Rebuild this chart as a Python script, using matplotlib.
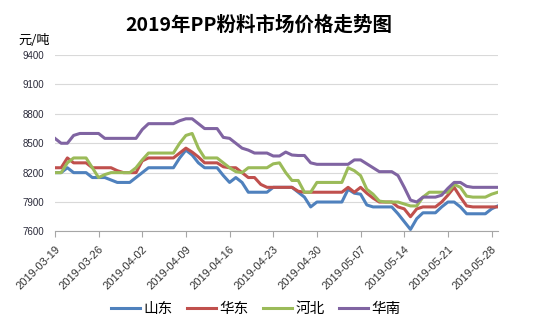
import matplotlib
matplotlib.use("Agg")
import matplotlib.pyplot as plt
import pandas as pd

plt.rcParams['font.family'] = ['Noto Sans CJK SC', 'DejaVu Sans']

# daily prices 2019-03-19 .. 2019-05-29 (yuan/ton)
dates = pd.date_range('2019-03-19', '2019-05-29', freq='D')

shandong = [8200, 8200, 8250, 8200, 8200, 8200, 8150, 8150, 8150, 8125,
            8100, 8100, 8100, 8150, 8200, 8250, 8250, 8250, 8250, 8250,
            8350, 8430, 8380, 8300, 8250, 8250, 8250, 8170, 8100, 8150,
            8100, 8000, 8000, 8000, 8000, 8050, 8050, 8050, 8050, 8000,
            7950, 7850, 7900, 7900, 7900, 7900, 7900, 8030, 7990, 7980,
            7870, 7850, 7850, 7850, 7850, 7780, 7700, 7620, 7730, 7790,
            7790, 7790, 7850, 7900, 7900, 7850, 7780, 7780, 7780, 7780,
            7830, 7860]

huadong = [8250, 8250, 8350, 8300, 8300, 8300, 8250, 8250, 8250, 8250,
           8220, 8200, 8200, 8200, 8320, 8350, 8350, 8350, 8350, 8350,
           8400, 8450, 8410, 8360, 8300, 8300, 8300, 8260, 8250, 8250,
           8200, 8150, 8150, 8080, 8050, 8050, 8050, 8050, 8050, 8010,
           8000, 8000, 8000, 8000, 8000, 8000, 8000, 8050, 8000, 8050,
           7990, 7940, 7900, 7900, 7900, 7850, 7830, 7750, 7830, 7850,
           7850, 7850, 7900, 7970, 8050, 7950, 7860, 7850, 7850, 7850,
           7850, 7850]

hebei = [8200, 8200, 8300, 8350, 8350, 8350, 8250, 8150, 8180, 8200,
         8200, 8200, 8200, 8250, 8330, 8400, 8400, 8400, 8400, 8400,
         8500, 8580, 8600, 8450, 8350, 8350, 8350, 8300, 8250, 8210,
         8200, 8250, 8250, 8250, 8250, 8290, 8300, 8200, 8120, 8120,
         8000, 8000, 8100, 8100, 8100, 8100, 8100, 8250, 8220, 8170,
         8030, 7980, 7910, 7900, 7900, 7900, 7880, 7860, 7860, 7950,
         8000, 8000, 8000, 8000, 8080, 8050, 7960, 7950, 7950, 7950,
         7980, 8000]

huanan = [8550, 8500, 8500, 8580, 8600, 8600, 8600, 8600, 8550, 8550,
          8550, 8550, 8550, 8550, 8640, 8700, 8700, 8700, 8700, 8700,
          8730, 8750, 8750, 8700, 8650, 8650, 8650, 8560, 8550, 8500,
          8450, 8430, 8400, 8400, 8400, 8370, 8370, 8410, 8380, 8375,
          8375, 8300, 8285, 8285, 8285, 8285, 8285, 8285, 8330, 8330,
          8290, 8250, 8210, 8210, 8210, 8170, 8050, 7920, 7900, 7950,
          7950, 7950, 7970, 8040, 8100, 8100, 8060, 8050, 8050, 8050,
          8050, 8050]

series = [('山东', shandong, '#4F81BD'),
          ('华东', huadong, '#C0504D'),
          ('河北', hebei, '#9BBB59'),
          ('华南', huanan, '#8064A2')]

tick_dates = pd.date_range('2019-03-19', '2019-05-28', freq='7D')
yticks = list(range(7600, 9401, 300))

fig = plt.figure(figsize=(5.33, 3.32), dpi=100)
ax = fig.add_axes([0.103, 0.303, 0.831, 0.531])

for name, vals, col in series:
    ax.plot(dates, vals, color=col, lw=2.2, label=name, solid_joinstyle='round')

ax.set_ylim(7600, 9400)
ax.set_xlim(dates[0], dates[-1])
ax.set_yticks(yticks)
ax.set_yticklabels([str(v) for v in yticks], fontsize=7,
                   family=['Liberation Sans', 'DejaVu Sans'], color='#2a2a3a')
ax.set_xticks(tick_dates)
ax.set_xticklabels([d.strftime('%Y-%m-%d') for d in tick_dates], fontsize=8,
                   family=['Liberation Sans', 'DejaVu Sans'], color='#333333',
                   rotation=45, ha='right', rotation_mode='anchor')

ax.grid(axis='y', color='#D9D9D9', lw=0.8)
ax.set_axisbelow(True)
for s in ['top', 'right', 'left']:
    ax.spines[s].set_visible(False)
ax.spines['bottom'].set_color('#A6A6A6')
ax.tick_params(axis='y', length=0, pad=8)
ax.tick_params(axis='x', length=4, color='#A6A6A6', pad=5)

fig.text(0.486, 0.925, '2019年PP粉料市场价格走势图', ha='center', va='center',
         fontsize=14, fontweight='bold')
fig.text(0.034, 0.878, '元/吨', ha='left', va='center', fontsize=9.5)

fig.legend(loc='center', bbox_to_anchor=(0.48, 0.07), ncol=4, frameon=False,
           fontsize=10.5, handlelength=2.0, handletextpad=0.2, columnspacing=1.0)

fig.savefig('out.png', dpi=100)
